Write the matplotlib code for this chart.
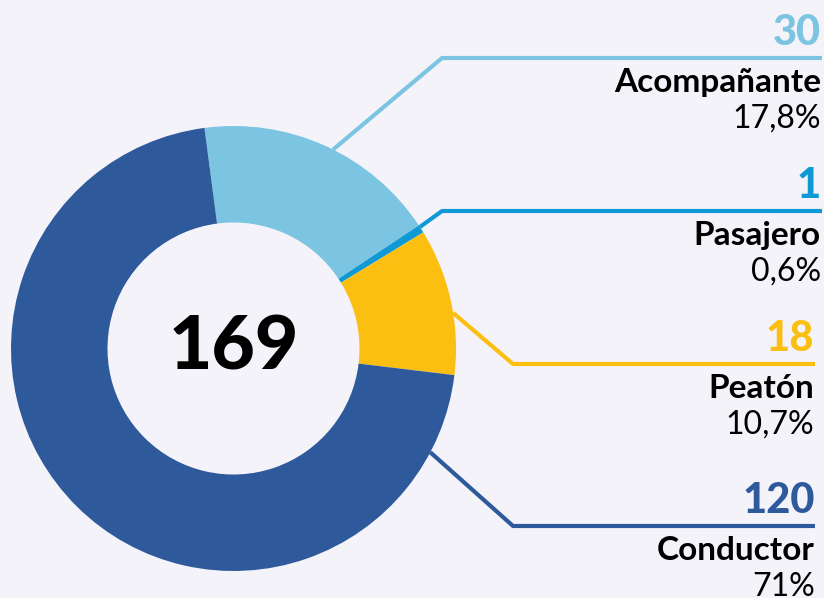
import numpy as np
import matplotlib.pyplot as plt

# data
labels = ['Acompañante', 'Pasajero', 'Peatón', 'Conductor']
counts = [30, 1, 18, 120]
pct_labels = ['17,8%', '0,6%', '10,7%', '71%']
total = 169
colors = ['#7cc5e2', '#0f9ad6', '#fbbf12', '#2e5a9c']

# layout (pixels, y measured from top)
W, H = 824, 598
cx, cy = 233.5, 348.5
r_out, r_in = 222.5, 126
start_ang = [63.4, 33.1, 9.2, -27.8]      # where each leader leaves the ring
elbow = [(442, 58), (442, 211), (513, 364), (513, 526)]
x_end = [822, 822, 815, 815]
x_txt = [821, 821, 814, 815]

bg = '#f5f3fa'
fig = plt.figure(figsize=(W / 100, H / 100), dpi=100, facecolor=bg)
ax = fig.add_axes([0, 0, 1, 1])
ax.set_facecolor(bg)

ax.pie(counts, colors=colors, startangle=97.5, counterclock=False,
       radius=r_out, center=(cx, H - cy),
       wedgeprops=dict(width=r_out - r_in, linewidth=0))

ax.text(cx, H - cy, str(total), ha='center', va='center', fontsize=54,
        fontfamily='Lato', fontweight='black', color='black')

for i in range(len(labels)):
    a = np.radians(start_ang[i])
    x0 = cx + r_out * np.cos(a)
    y0 = (H - cy) + r_out * np.sin(a)
    ex, ey = elbow[i]
    ax.plot([x0, ex, x_end[i]], [y0, H - ey, H - ey], color=colors[i],
            lw=3, solid_capstyle='butt', zorder=0)
    ax.text(x_txt[i], H - (ey - 13), str(counts[i]), ha='right', va='baseline',
            fontsize=30, fontfamily='Lato', fontweight='black', color=colors[i])
    ax.text(x_txt[i], H - (ey + 34), labels[i], ha='right', va='baseline',
            fontsize=24, fontfamily='Lato', fontweight='bold', color='black')
    ax.text(x_txt[i], H - (ey + 70), pct_labels[i], ha='right', va='baseline',
            fontsize=23, fontfamily='Lato', fontweight='normal', color='black')

ax.set_xlim(0, W)
ax.set_ylim(0, H)
ax.set_aspect('equal')
ax.axis('off')

fig.savefig('out.png', dpi=100, facecolor=bg)
